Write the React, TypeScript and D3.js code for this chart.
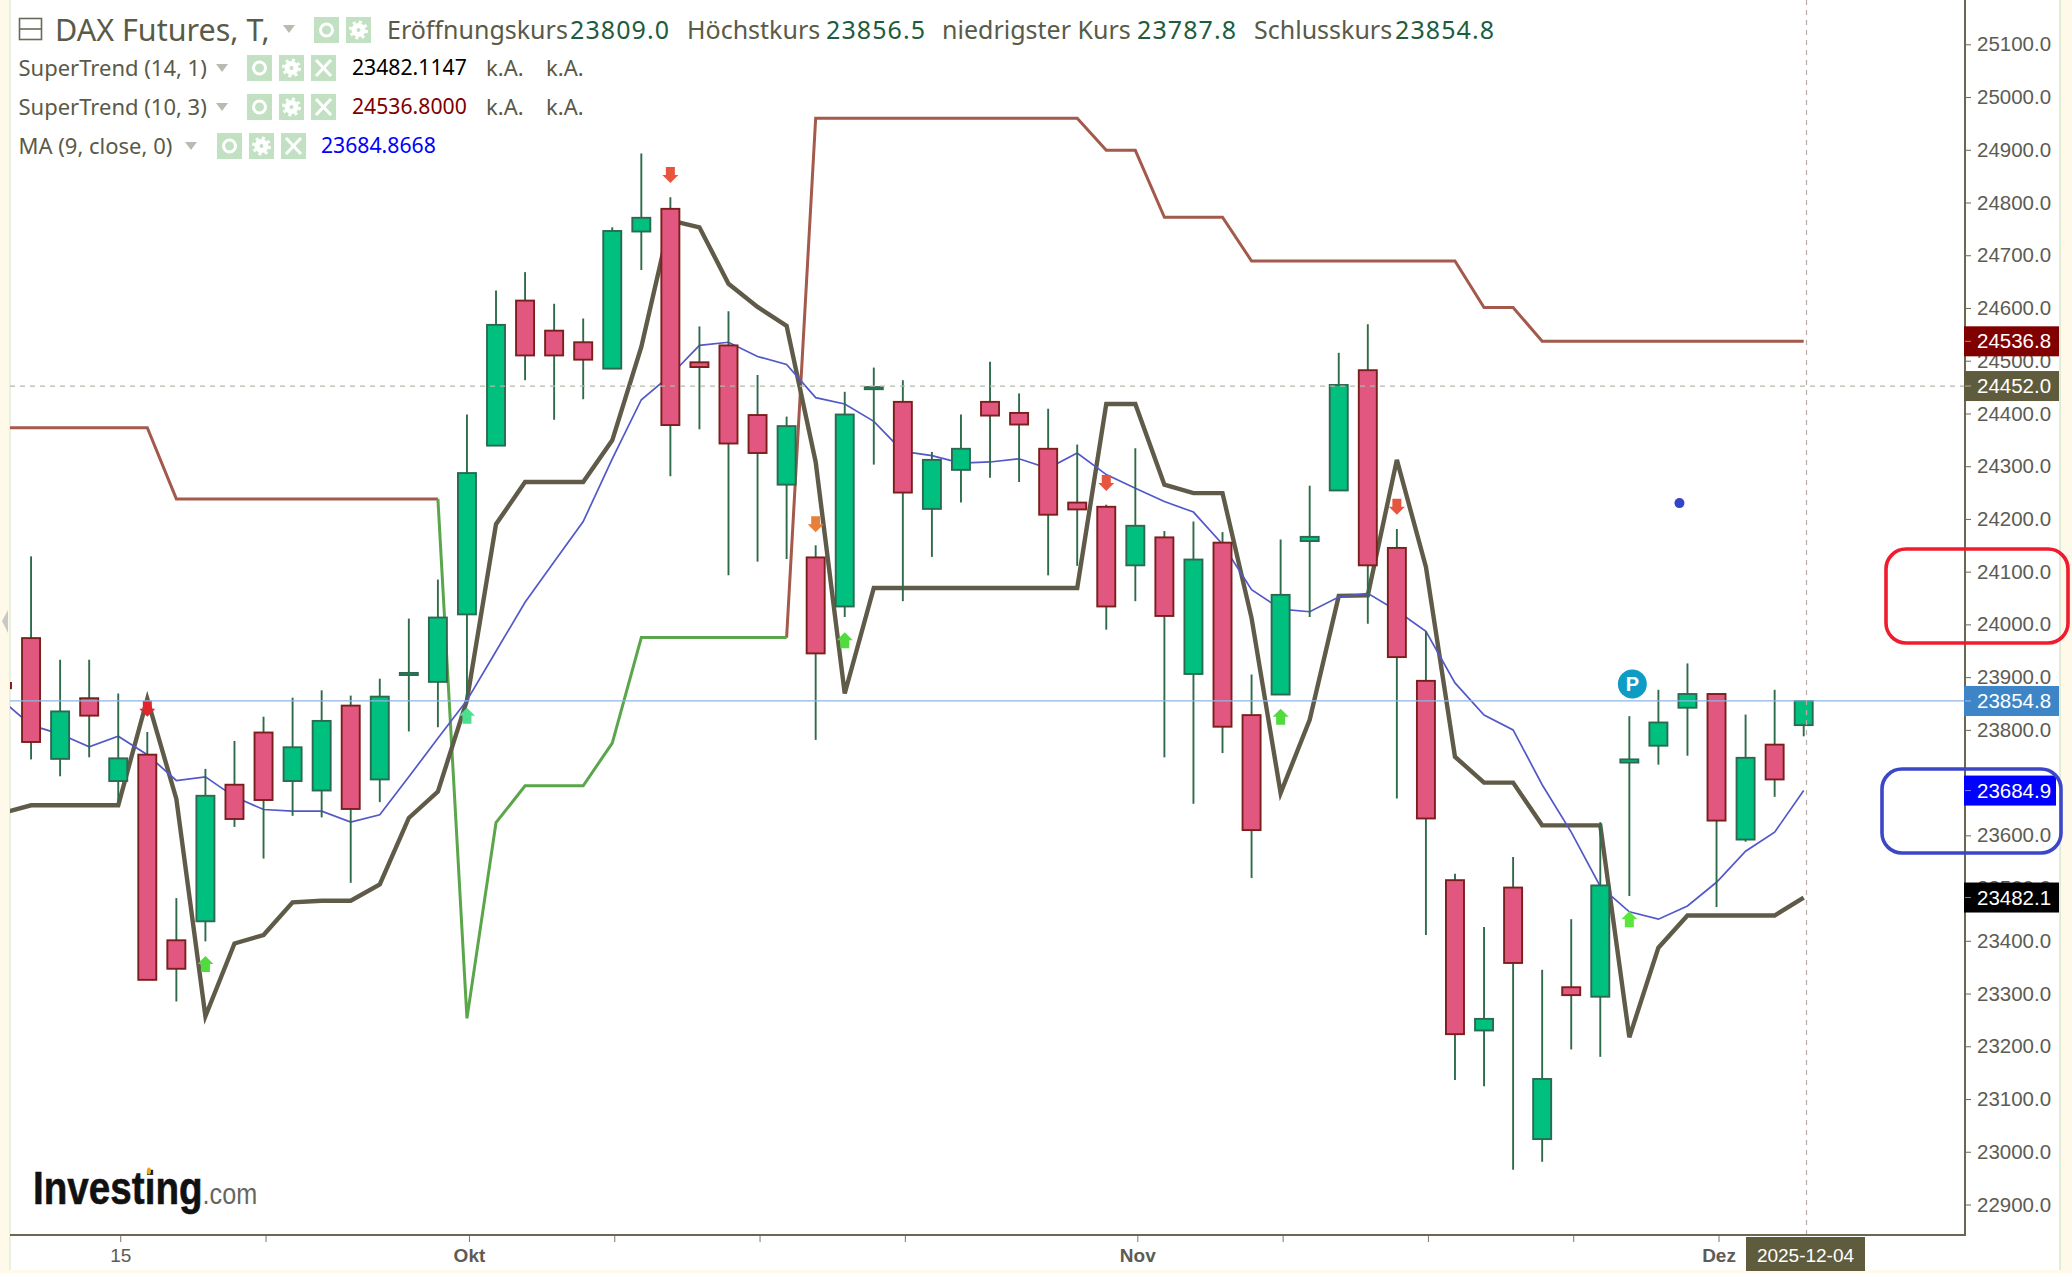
import { useEffect, useRef } from "react";
import * as d3 from "d3";

const dates = [
  "2025-09-09", "2025-09-10", "2025-09-11", "2025-09-12", "2025-09-15", "2025-09-16", "2025-09-17", "2025-09-18", "2025-09-19",
  "2025-09-22", "2025-09-23", "2025-09-24", "2025-09-25", "2025-09-26", "2025-09-29", "2025-09-30", "2025-10-01", "2025-10-02",
  "2025-10-03", "2025-10-06", "2025-10-07", "2025-10-08", "2025-10-09", "2025-10-10", "2025-10-13", "2025-10-14", "2025-10-15",
  "2025-10-16", "2025-10-17", "2025-10-20", "2025-10-21", "2025-10-22", "2025-10-23", "2025-10-24", "2025-10-27", "2025-10-28",
  "2025-10-29", "2025-10-30", "2025-10-31", "2025-11-03", "2025-11-04", "2025-11-05", "2025-11-06", "2025-11-07", "2025-11-10",
  "2025-11-11", "2025-11-12", "2025-11-13", "2025-11-14", "2025-11-17", "2025-11-18", "2025-11-19", "2025-11-20", "2025-11-21",
  "2025-11-24", "2025-11-25", "2025-11-26", "2025-11-27", "2025-11-28", "2025-12-01", "2025-12-02", "2025-12-03", "2025-12-04",
];

const opens = [
  23889, 23974, 23745, 23860, 23703, 23753, 23401, 23437, 23696, 23795, 23703, 23685, 23846, 23706, 23904, 23891,
  24019, 24339, 24614, 24557, 24535, 24485, 24745, 24788, 24497, 24529, 24397, 24265, 24127, 24034, 24446, 24422,
  24219, 24293, 24422, 24401, 24333, 24231, 24223, 24112, 24165, 23906, 24155, 23828, 23867, 24158, 24254, 24482,
  24145, 23893, 23515, 23230, 23501, 23024, 23312, 23294, 23738, 23770, 23842, 23868, 23592, 23772, 23809,
];
const highs = [
  23889, 24129, 23933, 23933, 23869, 23796, 23481, 23726, 23779, 23825, 23861, 23875, 23865, 23897, 24011, 24085,
  24398, 24633, 24668, 24608, 24580, 24753, 24893, 24810, 24565, 24594, 24473, 24394, 24150, 24441, 24487, 24463,
  24327, 24398, 24498, 24438, 24409, 24341, 24227, 24334, 24177, 24195, 24175, 23905, 24161, 24263, 24515, 24569,
  24181, 23987, 23527, 23426, 23559, 23345, 23441, 23625, 23826, 23876, 23926, 23868, 23829, 23876, 23856.5,
];
const lows = [
  23879, 23744, 23712, 23748, 23665, 23326, 23285, 23399, 23616, 23556, 23637, 23634, 23510, 23663, 23797, 23805,
  23862, 24339, 24463, 24388, 24427, 24485, 24672, 24281, 24370, 24093, 24119, 24124, 23781, 24014, 24303, 24044,
  24128, 24231, 24278, 24270, 24093, 24111, 23990, 24044, 23748, 23660, 23756, 23519, 23867, 24014, 24254, 24001,
  23670, 23411, 23136, 23124, 22966, 22981, 23194, 23180, 23485, 23734, 23751, 23464, 23588, 23673, 23787.8,
];
const closes = [
  23879, 23777, 23835, 23827, 23746, 23326, 23347, 23675, 23631, 23667, 23767, 23817, 23650, 23863, 23908, 24013,
  24287, 24568, 24510, 24510, 24502, 24746, 24771, 24378, 24488, 24343, 24325, 24376, 23945, 24398, 24450, 24250,
  24312, 24333, 24396, 24379, 24208, 24218, 24034, 24187, 24016, 24123, 23806, 23610, 24056, 24166, 24454, 24112,
  23938, 23632, 23223, 23252, 23358, 23138, 23297, 23505, 23744, 23814, 23868, 23628, 23747, 23706, 23854.8,
];

const superTrendFast = [
  23642, 23657, 23657, 23657, 23657, 23859, 23669, 23257, 23395, 23411, 23473, 23476, 23476, 23507, 23633, 23683,
  23856, 24190, 24270, 24270, 24270, 24349, 24526, 24766, 24753, 24646, 24602, 24566, 24308, 23869, 24069, 24069,
  24069, 24069, 24069, 24069, 24069, 24069, 24418, 24418, 24265, 24249, 24249, 24012, 23680, 23819, 24054, 24055,
  24312, 24109, 23749, 23700, 23700, 23619, 23619, 23619, 23217, 23387, 23448, 23448, 23448, 23448, 23482.1,
];

const n = null;
const superTrendUpper = [
  24373, 24373, 24373, 24373, 24373, 24373, 24238, 24238, 24238, 24238, 24238, 24238, 24238, 24238, 24238, 24238,
  n, n, n, n, n, n, n, n, n, n, n, 23975, 24960, 24960, 24960, 24960,
  24960, 24960, 24960, 24960, 24960, 24960, 24899, 24899, 24772, 24772, 24772, 24689, 24689, 24689, 24689, 24689,
  24689, 24689, 24689, 24601, 24601, 24536.8, 24536.8, 24536.8, 24536.8, 24536.8, 24536.8, 24536.8, 24536.8, 24536.8, 24536.8,
];
const superTrendLower = [
  n, n, n, n, n, n, n, n, n, n, n, n, n, n, n, 24238,
  23253, 23624, 23694, 23694, 23694, 23775, 23975, 23975, 23975, 23975, 23975, 23975, n, n, n, n,
  n, n, n, n, n, n, n, n, n, n, n, n, n, n, n, n,
  n, n, n, n, n, n, n, n, n, n, n, n, n, n, n,
];

const movingAverage = [
  23856, 23809, 23792, 23768, 23788, 23753, 23704, 23711, 23673, 23649, 23646, 23646, 23625, 23639, 23711, 23784,
  23856, 23949, 24042, 24119, 24195, 24314, 24426, 24472, 24529, 24535, 24508, 24493, 24430, 24418, 24385, 24328,
  24320, 24306, 24308, 24314, 24296, 24325, 24284, 24258, 24233, 24213, 24152, 24066, 24029, 24024, 24052, 24059,
  24026, 23987, 23889, 23828, 23800, 23696, 23606, 23503, 23455, 23441, 23466, 23511, 23570, 23606, 23684.9,
];

const upArrows = [
  { date: "2025-09-18", price: 23356, color: "#4fdc3c" },
  { date: "2025-10-01", price: 23827, color: "#4ae08c" },
  { date: "2025-10-20", price: 23970, color: "#4fdc3c" },
  { date: "2025-11-10", price: 23825, color: "#4fdc3c" },
  { date: "2025-11-26", price: 23441, color: "#5ae63c" },
];
const downArrows = [
  { date: "2025-09-16", price: 23840, color: "#e0262c" },
  { date: "2025-10-10", price: 24852, color: "#e8553f" },
  { date: "2025-10-17", price: 24190, color: "#e6803c" },
  { date: "2025-10-31", price: 24268, color: "#e8553f" },
  { date: "2025-11-14", price: 24223, color: "#e8553f" },
];

const priceTicks = d3.range(22900, 25101, 100);
const dateTicks = [
  "2025-09-15", "2025-09-22", "2025-10-01", "2025-10-08", "2025-10-15", "2025-10-22",
  "2025-11-03", "2025-11-10", "2025-11-17", "2025-11-24", "2025-12-01",
];
const dateTickLabels = ["15", "", "Okt", "", "", "", "Nov", "", "", "", "Dez"];

const badges = [
  { value: 24536.8, fill: "#800000", right: 2059 },
  { value: 24452.0, fill: "#5f5c3e", right: 2059 },
  { value: 23854.8, fill: "#3d85c6", right: 2059 },
  { value: 23684.9, fill: "#0000ff", right: 2056 },
  { value: 23482.1, fill: "#000000", right: 2059 },
];

const ohlcHeader = [
  { label: "Eröffnungskurs", labelX: 387, value: "23809.0", valueX: 570 },
  { label: "Höchstkurs", labelX: 687, value: "23856.5", valueX: 826 },
  { label: "niedrigster Kurs", labelX: 942, value: "23787.8", valueX: 1137 },
  { label: "Schlusskurs", labelX: 1254, value: "23854.8", valueX: 1395 },
];

const legendRows = [
  { name: "SuperTrend (14, 1)", cy: 68, triX: 222, iconX: 247, value: "23482.1147", valueX: 352, color: "#000000", na: true },
  { name: "SuperTrend (10, 3)", cy: 107, triX: 222, iconX: 247, value: "24536.8000", valueX: 352, color: "#800000", na: true },
  { name: "MA (9, close, 0)", cy: 146, triX: 191, iconX: 217, value: "23684.8668", valueX: 321, color: "#0000ff", na: false },
];

const WIDTH = 2072;
const HEIGHT = 1273;
const PLOT_LEFT = 10;
const PLOT_RIGHT = 1965;
const PLOT_BOTTOM = 1235;
const UI_FONT = "'Noto Sans', sans-serif";
const AXIS_FONT = "'Liberation Sans', Arial, sans-serif";
const TEXT_COLOR = "#5a5a48";
const GREEN_VALUE = "#1d5c3c";

export default function App() {
  const svgRef = useRef<SVGSVGElement | null>(null);

  useEffect(() => {
    if (!svgRef.current) return;
    const svg = d3.select(svgRef.current);
    svg.selectAll("*").remove();
    svg.attr("viewBox", `0 0 ${WIDTH} ${HEIGHT}`);

    const x = d3.scalePoint<string>().domain(dates).range([2, 1803.7]);
    const y = d3.scaleLinear().domain([22900, 25100]).range([1204.5, 44.3]);
    const bodyWidth = x.step() * 0.62;

    // page and plot background
    svg.append("rect").attr("width", WIDTH).attr("height", HEIGHT).attr("fill", "#fff9ea");
    svg.append("rect").attr("x", PLOT_LEFT).attr("width", 2050).attr("height", 1270).attr("fill", "#fff");
    svg.append("line").attr("x1", PLOT_LEFT).attr("x2", PLOT_LEFT).attr("y2", 1270).attr("stroke", "#d4e6c8");
    svg.append("line").attr("x1", 2060).attr("x2", 2060).attr("y2", 1270).attr("stroke", "#c4dcc0");
    svg.append("polygon").attr("points", "8,610 2,621 8,633").attr("fill", "#c8c8c8");

    svg
      .append("clipPath")
      .attr("id", "plot-clip")
      .append("rect")
      .attr("x", PLOT_LEFT)
      .attr("width", PLOT_RIGHT - PLOT_LEFT)
      .attr("height", PLOT_BOTTOM);
    const plot = svg.append("g").attr("clip-path", "url(#plot-clip)");

    const line = d3
      .line<number | null>()
      .defined((d) => d !== null)
      .x((_, i) => x(dates[i])!)
      .y((d) => y(d as number));

    const drawLine = (values: (number | null)[], color: string, width: number) =>
      plot
        .append("path")
        .attr("d", line(values))
        .attr("fill", "none")
        .attr("stroke", color)
        .attr("stroke-width", width)
        .attr("stroke-linejoin", "miter");

    drawLine(superTrendUpper, "#a3594b", 3);
    drawLine(superTrendLower, "#5ba64a", 3);
    drawLine(superTrendFast, "#5f5b48", 4.4);
    drawLine(movingAverage, "#5258c8", 1.7);

    // candles
    dates.forEach((d, i) => {
      const up = closes[i] >= opens[i];
      const cx = x(d)!;
      plot
        .append("line")
        .attr("x1", cx)
        .attr("x2", cx)
        .attr("y1", y(highs[i]))
        .attr("y2", y(lows[i]))
        .attr("stroke", "#2f6b4a")
        .attr("stroke-width", 1.9);
      const top = y(Math.max(opens[i], closes[i]));
      const bottom = y(Math.min(opens[i], closes[i]));
      plot
        .append("rect")
        .attr("x", cx - bodyWidth / 2)
        .attr("y", top)
        .attr("width", bodyWidth)
        .attr("height", Math.max(bottom - top, 1))
        .attr("fill", up ? "#00c080" : "#e2577f")
        .attr("stroke", up ? "#2c6a50" : "#7a1f1c")
        .attr("stroke-width", 1.9);
    });

    // signal arrows
    const drawArrow = (a: { date: string; price: number; color: string }, dir: number) => {
      const shape = [
        [-4.5, -8],
        [4.5, -8],
        [4.5, 0],
        [8, 0],
        [0, 8],
        [-8, 0],
        [-4.5, 0],
      ];
      plot
        .append("polygon")
        .attr("points", shape.map(([px, py]) => `${px},${py * dir}`).join(" "))
        .attr("transform", `translate(${x(a.date)},${y(a.price)})`)
        .attr("fill", a.color);
    };
    downArrows.forEach((a) => drawArrow(a, 1));
    upArrows.forEach((a) => drawArrow(a, -1));

    // reference lines
    plot
      .append("line")
      .attr("x1", PLOT_LEFT)
      .attr("x2", PLOT_RIGHT)
      .attr("y1", y(23854.8))
      .attr("y2", y(23854.8))
      .attr("stroke", "#8db6e2")
      .attr("stroke-width", 1.2);
    plot
      .append("line")
      .attr("x1", PLOT_LEFT)
      .attr("x2", PLOT_RIGHT)
      .attr("y1", y(24452))
      .attr("y2", y(24452))
      .attr("stroke", "#b4b8a8")
      .attr("stroke-width", 1.2)
      .attr("stroke-dasharray", "5 5");
    plot
      .append("line")
      .attr("x1", 1806.5)
      .attr("x2", 1806.5)
      .attr("y1", 0)
      .attr("y2", PLOT_BOTTOM)
      .attr("stroke", "#b8aca8")
      .attr("stroke-width", 1.2)
      .attr("stroke-dasharray", "5 5");

    // P badge and the lone dot
    const badgeX = x("2025-11-26")! + 3;
    const badgeY = y(23887);
    plot.append("circle").attr("cx", badgeX).attr("cy", badgeY).attr("r", 14.5).attr("fill", "#0f9cc4");
    plot
      .append("text")
      .attr("x", badgeX)
      .attr("y", badgeY + 7)
      .attr("text-anchor", "middle")
      .attr("font-family", AXIS_FONT)
      .attr("font-weight", "bold")
      .attr("font-size", 20)
      .attr("fill", "#fff")
      .text("P");
    plot
      .append("circle")
      .attr("cx", x("2025-11-28")! - 8)
      .attr("cy", y(24230))
      .attr("r", 5)
      .attr("fill", "#3344cc");

    // axes
    const yAxis = svg
      .append("g")
      .attr("transform", `translate(${PLOT_RIGHT},0)`)
      .call(
        d3
          .axisRight(y)
          .tickValues(priceTicks)
          .tickSize(6)
          .tickPadding(6)
          .tickFormat((d) => (d as number).toFixed(1))
      );
    yAxis.select(".domain").remove();
    yAxis.selectAll("line").attr("stroke", "#6b6850");
    yAxis
      .selectAll("text")
      .attr("font-family", AXIS_FONT)
      .attr("font-size", 20.5)
      .attr("fill", "#5c5c54");

    const xAxis = svg
      .append("g")
      .attr("transform", `translate(2,${PLOT_BOTTOM})`)
      .call(
        d3
          .axisBottom(x)
          .tickValues(dateTicks)
          .tickSize(7)
          .tickPadding(7)
          .tickFormat((_, i) => dateTickLabels[i])
      );
    xAxis.select(".domain").remove();
    xAxis.selectAll("line").attr("stroke", "#7a7866");
    xAxis
      .selectAll("text")
      .attr("font-family", AXIS_FONT)
      .attr("font-size", 19)
      .attr("font-weight", (_, i) => (i === 0 ? "normal" : "bold"))
      .attr("fill", "#5c5c54");

    svg
      .append("line")
      .attr("x1", PLOT_RIGHT)
      .attr("x2", PLOT_RIGHT)
      .attr("y1", 0)
      .attr("y2", PLOT_BOTTOM + 1)
      .attr("stroke", "#6b6850")
      .attr("stroke-width", 2);
    svg
      .append("line")
      .attr("x1", PLOT_LEFT)
      .attr("x2", PLOT_RIGHT + 1)
      .attr("y1", PLOT_BOTTOM)
      .attr("y2", PLOT_BOTTOM)
      .attr("stroke", "#6b6850")
      .attr("stroke-width", 2);

    // date flag
    svg.append("rect").attr("x", 1746).attr("y", 1237).attr("width", 119).attr("height", 34).attr("fill", "#5f5c3e");
    svg
      .append("text")
      .attr("x", 1805.5)
      .attr("y", 1262)
      .attr("text-anchor", "middle")
      .attr("font-family", AXIS_FONT)
      .attr("font-size", 19)
      .attr("fill", "#fff")
      .text("2025-12-04");

    // price flags
    badges.forEach((b) => {
      svg
        .append("rect")
        .attr("x", 1964)
        .attr("y", y(b.value) - 15)
        .attr("width", b.right - 1964)
        .attr("height", 30)
        .attr("fill", b.fill);
      svg
        .append("line")
        .attr("x1", PLOT_RIGHT)
        .attr("x2", PLOT_RIGHT + 6)
        .attr("y1", y(b.value))
        .attr("y2", y(b.value))
        .attr("stroke", "#fff")
        .attr("stroke-opacity", 0.5);
      svg
        .append("text")
        .attr("x", 1977)
        .attr("y", y(b.value) + 7)
        .attr("font-family", AXIS_FONT)
        .attr("font-size", 20.5)
        .attr("fill", "#fff")
        .text(b.value.toFixed(1));
    });

    // hand-drawn rounded boxes over the axis
    svg
      .append("rect")
      .attr("x", 1886)
      .attr("y", 549)
      .attr("width", 182)
      .attr("height", 94)
      .attr("rx", 20)
      .attr("fill", "none")
      .attr("stroke", "#ee1c2e")
      .attr("stroke-width", 3.6);
    svg
      .append("rect")
      .attr("x", 1882)
      .attr("y", 769)
      .attr("width", 179)
      .attr("height", 84)
      .attr("rx", 20)
      .attr("fill", "none")
      .attr("stroke", "#3c46c8")
      .attr("stroke-width", 3.6);

    // header
    const addText = (tx: number, cy: number, value: string, color: string, size: number, spacing = 0) =>
      svg
        .append("text")
        .attr("x", tx)
        .attr("y", cy)
        .attr("dy", "0.35em")
        .attr("font-family", UI_FONT)
        .attr("font-size", size)
        .attr("letter-spacing", spacing)
        .attr("fill", color)
        .text(value);

    const addTriangle = (cx: number, cy: number) =>
      svg
        .append("polygon")
        .attr("points", `${cx - 6},${cy - 4} ${cx + 6},${cy - 4} ${cx},${cy + 4}`)
        .attr("fill", "#b8bcb0");

    const addIcon = (ix: number, cy: number, kind: "eye" | "gear" | "close") => {
      const g = svg.append("g").attr("transform", `translate(${ix},${cy - 13})`);
      g.append("rect").attr("width", 25).attr("height", 26).attr("fill", "#c2e0c2");
      if (kind === "eye") {
        g.append("circle")
          .attr("cx", 12.5)
          .attr("cy", 13)
          .attr("r", 6)
          .attr("fill", "none")
          .attr("stroke", "#fff")
          .attr("stroke-width", 3);
      } else if (kind === "gear") {
        g.append("circle")
          .attr("cx", 12.5)
          .attr("cy", 13)
          .attr("r", 4.5)
          .attr("fill", "none")
          .attr("stroke", "#fff")
          .attr("stroke-width", 5);
        g.append("circle")
          .attr("cx", 12.5)
          .attr("cy", 13)
          .attr("r", 8)
          .attr("fill", "none")
          .attr("stroke", "#fff")
          .attr("stroke-width", 3)
          .attr("stroke-dasharray", "3 3.3");
      } else {
        g.append("path")
          .attr("d", "M5,5 L20,21 M20,5 L5,21")
          .attr("stroke", "#fff")
          .attr("stroke-width", 3);
      }
    };

    svg
      .append("rect")
      .attr("x", 19.5)
      .attr("y", 18.5)
      .attr("width", 22)
      .attr("height", 21)
      .attr("fill", "none")
      .attr("stroke", "#6a6a58")
      .attr("stroke-width", 1.6);
    svg.append("line").attr("x1", 19.5).attr("x2", 41.5).attr("y1", 29).attr("y2", 29).attr("stroke", "#6a6a58").attr("stroke-width", 1.6);

    addText(55, 30, "DAX Futures, T,", TEXT_COLOR, 30.5);
    addTriangle(289, 29);
    addIcon(314, 30, "eye");
    addIcon(346, 30, "gear");
    ohlcHeader.forEach((h) => {
      addText(h.labelX, 30, h.label, TEXT_COLOR, 25);
      addText(h.valueX, 30, h.value, GREEN_VALUE, 25, 1.1);
    });

    legendRows.forEach((r) => {
      addText(18.5, r.cy, r.name, TEXT_COLOR, 22);
      addTriangle(r.triX, r.cy);
      addIcon(r.iconX, r.cy, "eye");
      addIcon(r.iconX + 32, r.cy, "gear");
      addIcon(r.iconX + 64, r.cy, "close");
      addText(r.valueX, r.cy, r.value, r.color, 21.2);
      if (r.na) {
        addText(486, r.cy, "k.A.", TEXT_COLOR, 22);
        addText(546, r.cy, "k.A.", TEXT_COLOR, 22);
      }
    });

    // watermark
    const logo = svg
      .append("text")
      .attr("transform", "translate(33,1204) scale(0.84,1)")
      .attr("font-family", AXIS_FONT)
      .attr("fill", "#111");
    logo.append("tspan").attr("font-weight", "bold").attr("font-size", 46).attr("stroke", "#111").attr("stroke-width", 0.6).text("Investing");
    logo.append("tspan").attr("font-size", 30).attr("fill", "#66665e").text(".com");
    svg.append("ellipse").attr("cx", 149).attr("cy", 1171).attr("rx", 2).attr("ry", 3.5).attr("fill", "#e8a820");
  }, []);

  return <svg ref={svgRef} width={WIDTH} height={HEIGHT} style={{ position: "absolute", left: 0, top: 0 }} />;
}
